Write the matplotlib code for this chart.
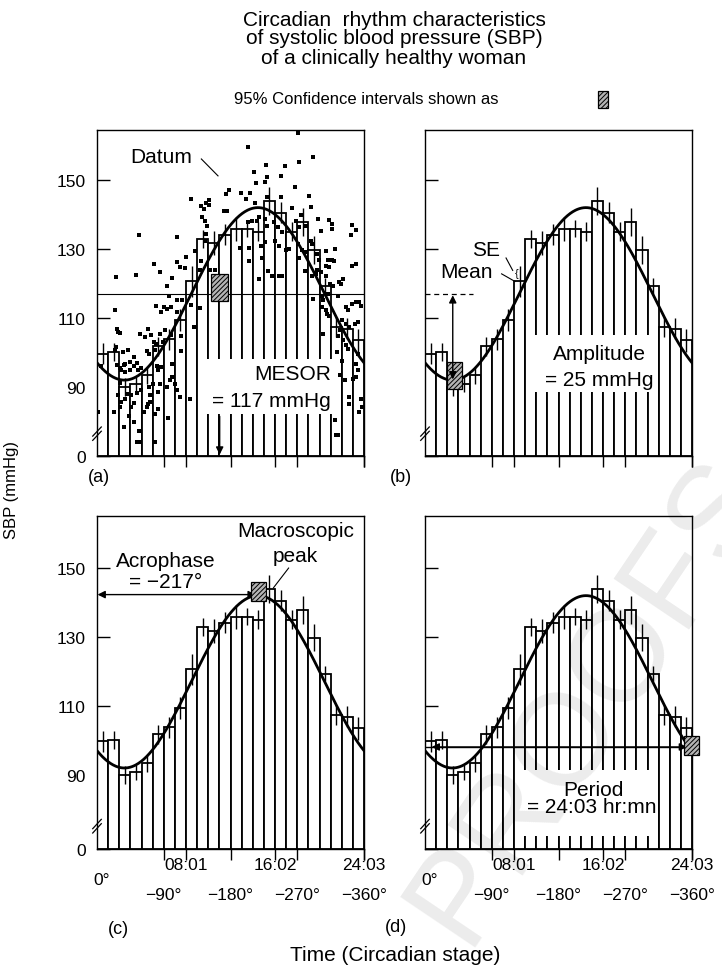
import numpy as np
import matplotlib.pyplot as plt
from matplotlib.patches import Rectangle

plt.rcParams['font.family'] = ['Liberation Sans', 'DejaVu Sans']
plt.rcParams['font.size'] = 12
plt.rcParams['hatch.linewidth'] = 0.7

# hourly means (mmHg) and their standard errors
sbp_mean = [99.7, 100.1, 90.0, 90.8, 93.4, 101.8, 103.8, 109.3, 120.7, 132.9, 131.8, 134.2,
            135.9, 135.9, 135.0, 144.0, 140.5, 135.0, 137.8, 129.8, 119.3, 107.4, 106.9, 103.5]
sbp_se = [3.0, 2.7, 2.5, 2.2, 2.5, 2.7, 3.0, 3.2, 4.5, 2.7, 3.5, 3.0,
          3.5, 2.5, 2.7, 4.0, 3.0, 2.7, 4.0, 4.0, 2.2, 3.0, 3.0, 3.4]

datum_hour = [18.1, 13.6, 19.5, 14.1, 15.2, 15.3, 16.6, 16.9, 18.2, 17.8, 11.9, 11.6, 13.0, 13.8,
              14.3, 15.1, 19.1, 8.5, 9.8, 10.1, 9.6, 11.4, 11.7, 9.5, 9.7, 9.9, 13.6, 14.0, 14.6,
              15.9, 16.3, 19.9, 20.9, 23.0, 23.3, 20.2, 21.2, 17.9, 18.2, 3.8, 7.2, 8.0, 7.2, 7.5,
              7.9, 5.1, 5.7, 1.7, 3.5, 6.3, 6.5, 5.3, 6.0, 6.3, 6.7, 7.2, 7.2, 1.6, 1.8, 1.9, 2.1,
              3.9, 4.6, 4.9, 5.7, 6.1, 6.7, 5.3, 5.9, 4.7, 5.2, 1.6, 2.3, 2.8, 3.0, 3.3, 2.5, 1.8,
              2.2, 2.5, 3.0, 3.3, 4.0, 3.7, 3.1, 2.8, 2.5, 2.2, 2.1, 1.9, 1.5, 0.1, 2.4, 3.3, 3.8,
              3.6, 3.9, 4.6, 4.5, 4.2, 4.8, 5.2, 5.5, 4.8, 4.7, 5.0, 5.7, 5.5, 5.8, 6.6, 6.8, 6.3,
              7.0, 7.2, 7.5, 8.4, 8.7, 15.8, 16.4, 16.7, 14.8, 15.1, 16.4, 17.0, 18.1, 18.5, 18.8,
              19.4, 20.0, 20.8, 21.2, 21.4, 20.9, 19.8, 20.2, 20.6, 22.2, 21.8, 23.0, 23.3, 20.4,
              20.6, 20.7, 20.3, 20.8, 21.0, 21.7, 22.6, 23.0, 23.3, 23.6, 23.8, 22.1, 22.4, 22.7,
              23.2, 23.5, 22.2, 22.4, 22.6, 23.5, 23.3, 23.5, 23.3, 23.1, 23.8, 23.9, 23.6, 22.7,
              22.3, 21.9, 21.4, 21.5, 21.7,
              13.4, 15.3, 16.6, 19.3, 17.6, 14.2, 14.4, 15.1, 15.3, 18.85, 21.2, 22.9, 18.4, 16.7,
              16.0, 12.85, 13.7, 13.7, 14.9, 17.3, 18.2, 19.8, 19.3, 20.6, 21.35, 20.6, 18.7, 15.4,
              14.6, 19.4, 19.7, 22.0, 21.3,
              6.8, 8.8, 9.35, 10.1, 9.8, 9.7, 9.35, 9.3, 10.2, 10.6,
              19.45, 20.3, 20.9, 22.4, 20.35, 21.7, 21.85, 21.6, 22.1, 22.7,
              0.4, 1.7, 2.1, 2.4, 3.6, 2.1, 2.9, 3.1, 3.3, 3.6, 4.0, 4.3, 4.5, 5.1, 5.4, 5.5, 6.8,
              6.4, 5.2, 5.8, 7.55, 7.55, 7.7, 8.5, 9.25]
datum_sbp = [163.5, 159.7, 156.6, 152.4, 154.3, 151.0, 151.3, 154.1, 155.1, 147.9, 147.1, 146.0,
             146.1, 146.2, 149.0, 149.3, 145.5, 144.5, 143.3, 144.2, 141.6, 141.1, 141.1, 139.2,
             138.2, 136.8, 137.8, 138.2, 139.2, 137.8, 136.3, 138.7, 138.4, 137.1, 135.5, 135.3,
             135.8, 138.2, 136.5, 134.1, 133.4, 127.6, 126.2, 124.7, 124.5, 125.7, 123.3, 122.0,
             122.5, 119.4, 116.5, 113.6, 113.1, 112.7, 113.2, 115.1, 111.7, 112.2, 106.9, 105.9,
             105.6, 105.4, 106.9, 105.0, 105.4, 106.4, 105.0, 102.6, 103.0, 99.7, 100.8, 100.6,
             100.1, 100.6, 97.3, 98.7, 96.8, 96.3, 94.8, 94.4, 94.8, 96.0, 95.5, 94.8, 87.6, 88.1,
             86.6, 85.7, 84.2, 87.6, 82.8, 82.8, 78.4, 79.9, 77.3, 74.1, 74.1, 85.2, 84.2, 82.8,
             85.7, 82.3, 83.7, 87.6, 90.0, 91.0, 91.0, 94.8, 95.8, 91.9, 92.9, 90.0, 91.0, 89.1,
             87.1, 86.6, 107.4, 122.3, 122.3, 122.3, 131.0, 132.0, 131.0, 129.6, 131.5, 129.6,
             129.1, 131.5, 126.7, 126.7, 126.7, 130.0, 124.7, 123.8, 123.3, 122.3, 121.4, 120.4,
             125.2, 125.7, 115.1, 112.2, 111.2, 113.2, 117.0, 119.9, 116.5, 112.2, 114.1, 114.6,
             114.6, 113.6, 109.3, 108.3, 107.4, 108.3, 108.8, 103.5, 102.1, 101.1, 99.7, 96.8,
             94.8, 92.9, 92.4, 86.4, 84.2, 82.8, 87.1, 92.0, 93.4, 80.4, 76.0, 76.0,
             144.4, 145.2, 145.2, 142.1, 141.9, 143.2, 138.2, 138.7, 136.8, 136.8, 137.3, 134.1,
             140.0, 134.8, 132.4, 130.3, 130.3, 126.6, 127.3, 130.0, 127.3, 128.6, 132.4, 129.5,
             126.6, 125.2, 123.7, 123.7, 121.3, 122.3, 122.8, 120.0, 119.2,
             121.5, 129.5, 142.4, 142.8, 134.4, 132.4, 126.4, 123.9, 123.9, 123.9,
             115.5, 116.3, 110.7, 113.1, 105.4, 104.9, 106.4, 100.1, 97.6, 85.1,
             96.2, 101.5, 95.5, 96.4, 97.1, 91.3, 81.7, 84.1, 85.5, 88.2, 89.0, 104.4, 100.3,
             103.0, 96.2, 88.6, 96.7, 80.9, 74.0, 111.6, 104.9, 100.5, 115.3, 113.8, 112.8]

# cosinor parameters
MESOR = 117.0
AMPLITUDE = 25.0
ACROPHASE = -217.0  # degrees
PERIOD = 24.05      # hours (24:03)

y_ticks = [90, 110, 130, 150]
time_ticks = [PERIOD / 3, 2 * PERIOD / 3, PERIOD]
time_labels = ['08:01', '16:02', '24:03']
deg_ticks = [PERIOD / 4, PERIOD / 2, 3 * PERIOD / 4, PERIOD]
deg_labels = ['\u221290°', '\u2212180°', '\u2212270°', '\u2212360°']

FS = 15  # annotation text size
W, H = 722, 970
fig = plt.figure(figsize=(W / 100, H / 100), dpi=100)


def fig_axes(x0, x1, ytop, ybot):
    # pixel box -> figure fraction
    return fig.add_axes([x0 / W, 1 - ybot / H, (x1 - x0) / W, (ybot - ytop) / H])


def ci_box(ax, x0, x1, y0, y1):
    ax.add_patch(Rectangle((x0, y0), x1 - x0, y1 - y0, facecolor='#b4b4b4', edgecolor='black',
                           hatch='///////', lw=0.9, zorder=7, clip_on=False))


def white_box(ax, x0, x1, y0, y1):
    ax.add_patch(Rectangle((x0, y0), x1 - x0, y1 - y0, facecolor='white', edgecolor='none', zorder=3.5))


def panel(ax, ybot, ytop, ylabels, xlabels):
    w = PERIOD / 24
    xs = np.arange(24) * w
    mean = np.array(sbp_mean)
    se = np.array(sbp_se)
    ax.bar(xs, mean - ybot, width=w, bottom=ybot, align='edge', facecolor='white',
           edgecolor='black', lw=1.3, zorder=2)
    ax.vlines(xs + w / 2, mean - se, mean + se, color='black', lw=1.0, zorder=3)
    t = np.linspace(0, PERIOD, 400)
    fit = MESOR + AMPLITUDE * np.cos(2 * np.pi * t / PERIOD + np.radians(ACROPHASE))
    ax.plot(t, fit, color='black', lw=2.0, zorder=5)
    ax.set_xlim(0, PERIOD)
    ax.set_ylim(ybot, ytop)
    ax.set_yticks([ybot] + y_ticks)
    ax.set_yticklabels(['0'] + [str(v) for v in y_ticks] if ylabels else [])
    ax.tick_params(axis='y', direction='in', length=9.5, width=1.0, pad=8, labelsize=12.5)
    ax.set_xticks(time_ticks + deg_ticks)
    ax.set_xticklabels([])
    ax.tick_params(axis='x', direction='out', length=8, width=1.0)
    for s in ax.spines.values():
        s.set_linewidth(1.0)
    # axis break marks
    yb = 0.062
    for dy in (0.0, 0.013):
        ax.plot([-0.016, 0.016], [yb + dy - 0.014, yb + dy + 0.014], color='black', lw=0.9,
                transform=ax.transAxes, clip_on=False, zorder=8)
    if xlabels:
        ax.annotate('0°', xy=(0, 0), xycoords=('data', 'axes fraction'), xytext=(3, -22),
                    textcoords='offset points', ha='center', va='center', fontsize=12.5)
        for x, lab in zip(time_ticks, time_labels):
            ax.annotate(lab, xy=(x, 0), xycoords=('data', 'axes fraction'), xytext=(0, -11),
                        textcoords='offset points', ha='center', va='center', fontsize=12.5)
        for x, lab in zip(deg_ticks, deg_labels):
            ax.annotate(lab, xy=(x, 0), xycoords=('data', 'axes fraction'), xytext=(0, -33),
                        textcoords='offset points', ha='center', va='center', fontsize=12.5)


arrow_kw = dict(color='black', lw=1.0, shrinkA=0, shrinkB=0, mutation_scale=11)

# (a) MESOR
ax_a = fig_axes(97, 364, 131, 457)
panel(ax_a, 70, 164.5, True, False)
ax_a.axhline(MESOR, color='black', lw=0.8, zorder=4)
ax_a.plot(datum_hour, datum_sbp, 's', ms=2.2, color='black', mew=0, zorder=6)
white_box(ax_a, 9.95, 21.2, 82.2, 98.2)
ax_a.text(21.05, 93.8, 'MESOR', ha='right', va='center', fontsize=FS, zorder=6)
ax_a.text(21.05, 86.2, '= 117 mmHg', ha='right', va='center', fontsize=FS, zorder=6)
ax_a.annotate('', xy=(11.05, 70.4), xytext=(11.05, 81.5),
              arrowprops=dict(arrowstyle='-|>', **arrow_kw), zorder=6)
ci_box(ax_a, 10.25, 11.8, 114.9, 122.8)
ax_a.text(5.8, 156.7, 'Datum', ha='center', va='center', fontsize=FS)
ax_a.plot([9.4, 10.9], [156.1, 151.2], color='black', lw=0.8)

# (b) Amplitude
ax_b = fig_axes(425, 692, 131, 457)
panel(ax_b, 70, 164.5, False, False)
ax_b.plot([0, 4.3], [MESOR, MESOR], color='black', lw=0.9, ls=(0, (4, 3)), zorder=6)
ci_box(ax_b, 1.95, 3.35, 89.4, 97.2)
ax_b.annotate('', xy=(2.5, 116.6), xytext=(2.5, 92.2),
              arrowprops=dict(arrowstyle='<|-|>', **arrow_kw), zorder=8)
white_box(ax_b, 9.9, 20.95, 88.5, 105.0)
ax_b.text(15.7, 99.6, 'Amplitude', ha='center', va='center', fontsize=FS, zorder=6)
ax_b.text(15.7, 92.3, '= 25 mmHg', ha='center', va='center', fontsize=FS, zorder=6)
ax_b.text(5.5, 130.0, 'SE', ha='center', va='center', fontsize=FS)
ax_b.text(3.7, 123.6, 'Mean', ha='center', va='center', fontsize=FS)
ax_b.plot([7.3, 7.9], [127.4, 123.8], color='black', lw=0.8)
ax_b.plot([6.9, 8.1], [122.8, 120.6], color='black', lw=0.8)
ax_b.text(8.3, 123.1, '{', ha='center', va='center', fontsize=8)

# (c) Acrophase
ax_c = fig_axes(97, 364, 517, 850)
panel(ax_c, 68.5, 165.1, True, True)
ax_c.annotate('', xy=(14.3, 142.3), xytext=(0.05, 142.3),
              arrowprops=dict(arrowstyle='<|-|>', **arrow_kw), zorder=6)
ci_box(ax_c, 13.85, 15.2, 140.4, 145.9)
ax_c.text(6.2, 152.2, 'Acrophase', ha='center', va='center', fontsize=FS)
ax_c.text(6.2, 146.1, '= \u2212217°', ha='center', va='center', fontsize=FS)
ax_c.text(17.9, 161.0, 'Macroscopic', ha='center', va='center', fontsize=FS)
ax_c.text(17.9, 153.6, 'peak', ha='center', va='center', fontsize=FS)
ax_c.plot([17.26, 15.9], [150.0, 144.3], color='black', lw=0.8, zorder=6)

# (d) Period
ax_d = fig_axes(425, 692, 517, 850)
panel(ax_d, 68.5, 165.1, False, True)
ax_d.plot([0, PERIOD], [98.1, 98.1], color='black', lw=1.0, zorder=6)
ax_d.annotate('', xy=(23.6, 98.1), xytext=(0.6, 98.1),
              arrowprops=dict(arrowstyle='<|-|>', **arrow_kw), zorder=6)
ci_box(ax_d, 23.3, 24.7, 95.8, 101.3)
white_box(ax_d, 8.2, 21.0, 72.3, 91.4)
ax_d.text(15.2, 85.9, 'Period', ha='center', va='center', fontsize=FS, zorder=6)
ax_d.text(15.0, 80.7, '= 24:03 hr:mn', ha='center', va='center', fontsize=FS, zorder=6)

# figure texts
for y, line in zip([21, 39, 58], ['Circadian  rhythm characteristics',
                                  'of systolic blood pressure (SBP)',
                                  'of a clinically healthy woman']):
    fig.text(394 / W, 1 - y / H, line, ha='center', va='center', fontsize=FS)
fig.text(366 / W, 1 - 100 / H, '95% Confidence intervals shown as', ha='center', va='center',
         fontsize=12)
fig.add_artist(Rectangle((598 / W, 1 - 109 / H), 10 / W, 17 / H, transform=fig.transFigure,
                         facecolor='#b4b4b4', edgecolor='black', hatch='///////', lw=0.9))
fig.text(12 / W, 1 - 490 / H, 'SBP (mmHg)', rotation=90, ha='center', va='center', fontsize=12)
fig.text(88 / W, 1 - 478 / H, '(a)', ha='left', va='center', fontsize=13)
fig.text(390 / W, 1 - 478 / H, '(b)', ha='left', va='center', fontsize=13)
fig.text(108 / W, 1 - 930 / H, '(c)', ha='left', va='center', fontsize=13)
fig.text(385 / W, 1 - 928 / H, '(d)', ha='left', va='center', fontsize=13)
fig.text(395 / W, 1 - 956 / H, 'Time (Circadian stage)', ha='center', va='center', fontsize=FS)

# faint watermark
fig.text(590 / W, 1 - 700 / H, 'PROOFS', rotation=56, ha='center', va='center', fontsize=94,
         color='black', alpha=0.08, zorder=20)

fig.savefig('out.png', dpi=100)
